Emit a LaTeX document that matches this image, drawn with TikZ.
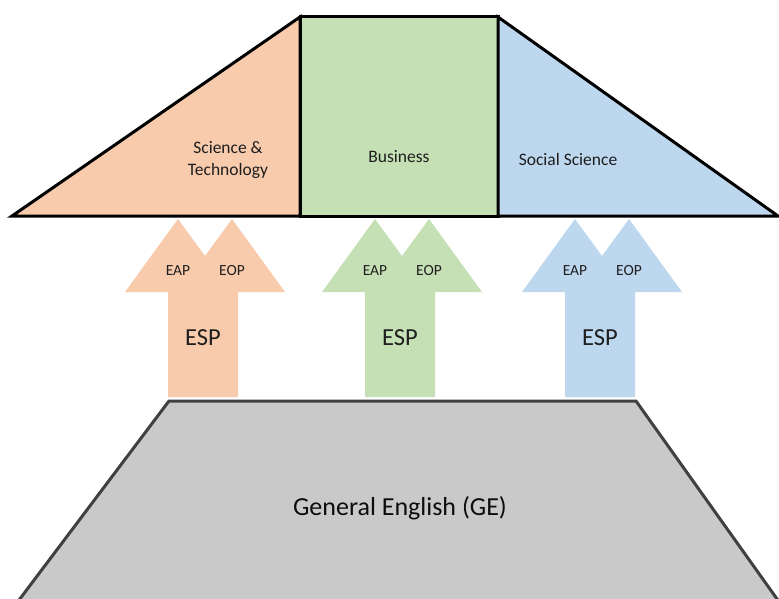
\documentclass[tikz,border=0pt]{standalone}
\usepackage{fontspec}
\setmainfont{Carlito}
\definecolor{orfill}{HTML}{F8CBAD}
\definecolor{grfill}{HTML}{C5E0B4}
\definecolor{blfill}{HTML}{BDD7EE}
\definecolor{gefill}{HTML}{C9C9C9}
\definecolor{geline}{HTML}{404040}
\definecolor{txt}{HTML}{1E1E1E}
\tikzset{
  region/.style={draw=black, line width=3pt, line join=miter},
  regionlabel/.style={text=txt, font=\fontsize{17.5}{22}\selectfont, align=center, inner sep=0pt},
  smalllabel/.style={text=txt, font=\fontsize{15.5}{18}\selectfont, inner sep=0pt},
  esplabel/.style={text=txt, font=\fontsize{24.5}{28}\selectfont, inner sep=0pt},
  gelabel/.style={text=black!95, font=\fontsize{26}{30}\selectfont, inner sep=0pt},
  gebox/.style={fill=gefill, draw=geline, line width=3pt, line join=miter}
}
\begin{document}
\begin{tikzpicture}[x=1pt,y=-1pt]
\useasboundingbox (0,0) rectangle (779,599);
\clip (0,0) rectangle (779,599);
% top regions
\fill[white] (0,0) rectangle (779,599);
\filldraw[region, fill=orfill] (12,216) -- (300,17) -- (300,216) -- cycle;
\filldraw[region, fill=grfill] (300,17) rectangle (498,216);
\filldraw[region, fill=blfill] (498,17) -- (778,216) -- (498,216) -- cycle;
\node[regionlabel] (st) at (228,160) {Science \&\\Technology};
\node[regionlabel] (bus) at (399,157) {Business};
\node[regionlabel] (soc) at (568,159) {Social Science};
% arrows
\foreach \c/\col/\n in {203/orfill/a,400/grfill/b,600/blfill/c}{
  \fill[\col] (\c-35,397) -- (\c-35,292) -- (\c-78,292) -- (\c-25,219)
     -- (\c+2,256) -- (\c+29,219) -- (\c+82,292) -- (\c+35,292)
     -- (\c+35,397) -- cycle;
  \node[smalllabel] (eap\n) at (\c-25,271) {EAP};
  \node[smalllabel] (eop\n) at (\c+29,271) {EOP};
  \node[esplabel] (esp\n) at (\c,338) {ESP};
}
% general english
\filldraw[gebox] (169,401) -- (636,401) -- (792,620) -- (4,620) -- cycle;
\node[gelabel] (ge) at (400,508) {General English (GE)};
\end{tikzpicture}
\end{document}
